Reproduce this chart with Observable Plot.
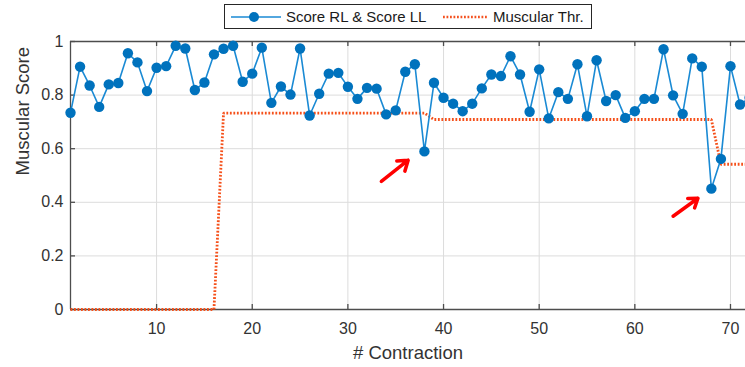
<!DOCTYPE html>
<html>
<head>
<meta charset="utf-8">
<script src="https://cdn.jsdelivr.net/npm/d3@7"></script>
<script src="https://cdn.jsdelivr.net/npm/@observablehq/plot@0.6"></script>
<style>
  html, body { margin: 0; padding: 0; background: #fff; overflow: hidden; }
  #wrap { position: relative; width: 745px; height: 367px; overflow: hidden; font-family: "Liberation Sans", Arial, sans-serif; }
  #wrap svg { overflow: hidden; }
  #legend { position: absolute; left: 224px; top: 4px; width: 368px; height: 25px; border: 1px solid #262626; background: #fff; box-sizing: border-box; }
  #legend svg { position: absolute; left: 0; top: 0; }
  #legend span { position: absolute; top: 3px; font-size: 15px; color: #1a1a1a; white-space: nowrap; }
</style>
</head>
<body>
<div id="wrap">
  <div id="chart"></div>
  <div id="legend">
    <svg width="368" height="25">
      <line x1="6" x2="56" y1="12" y2="12" stroke="#1a8ad4" stroke-width="1.5"></line>
      <circle cx="29" cy="12" r="5" fill="#0072BD"></circle>
      <line x1="218" x2="263" y1="12" y2="12" stroke="#f4511e" stroke-width="2.5" stroke-dasharray="1.8 1.7"></line>
    </svg>
    <span style="left:61px">Score RL &amp; Score LL</span>
    <span style="left:268px">Muscular Thr.</span>
  </div>
</div>
<script>
// Contraction index
const contraction = d3.range(1, 73);
// Score RL & Score LL (one value per contraction)
const score = [
  0.734, 0.906, 0.836, 0.756, 0.840, 0.845, 0.956, 0.922, 0.815, 0.902,
  0.908, 0.984, 0.974, 0.819, 0.847, 0.952, 0.973, 0.984, 0.850, 0.880,
  0.977, 0.771, 0.832, 0.802, 0.974, 0.724, 0.805, 0.880, 0.883, 0.831,
  0.786, 0.827, 0.824, 0.728, 0.743, 0.887, 0.915, 0.590, 0.846, 0.790,
  0.768, 0.740, 0.768, 0.825, 0.877, 0.871, 0.945, 0.877, 0.738, 0.896,
  0.713, 0.811, 0.786, 0.915, 0.721, 0.930, 0.778, 0.800, 0.715, 0.740,
  0.786, 0.786, 0.971, 0.799, 0.730, 0.937, 0.906, 0.451, 0.562, 0.908,
  0.765, 0.790
];
// Muscular threshold (one value per contraction)
const threshold = [
  0, 0, 0, 0, 0, 0, 0, 0, 0, 0,
  0, 0, 0, 0, 0, 0, 0.733, 0.733, 0.733, 0.733,
  0.733, 0.733, 0.733, 0.733, 0.733, 0.733, 0.733, 0.733, 0.733, 0.733,
  0.733, 0.733, 0.733, 0.733, 0.733, 0.733, 0.733, 0.733, 0.709, 0.709,
  0.709, 0.709, 0.709, 0.709, 0.709, 0.709, 0.709, 0.709, 0.709, 0.709,
  0.709, 0.709, 0.709, 0.709, 0.709, 0.709, 0.709, 0.709, 0.709, 0.709,
  0.709, 0.709, 0.709, 0.709, 0.709, 0.709, 0.709, 0.709, 0.542, 0.542,
  0.542, 0.542
];
const xTicks = [10, 20, 30, 40, 50, 60, 70];
const yTicks = [0, 0.2, 0.4, 0.6, 0.8, 1];
// Red annotation arrows (data space: from -> to)
const arrowX1 = [33.5, 64.0];
const arrowY1 = [0.478, 0.348];
const arrowX2 = [36.3, 66.6];
const arrowY2 = [0.557, 0.415];

const rows = contraction.map((c, i) => ({c, score: score[i], thr: threshold[i]}));
const arrows = arrowX1.map((x1, i) => ({x1, y1: arrowY1[i], x2: arrowX2[i], y2: arrowY2[i]}));

const W = 745, H = 367;
const mL = 70, mT = 41, mB = 58, mR = 0;
const pxPerX = 9.565;
const xMax = 1 + (W - mL - mR) / pxPerX;
const tickLenX = 5 / pxPerX;
const tickLenY = 5 / (H - mT - mB);
const axisColor = "#4d4d4d";

const chart = Plot.plot({
  width: W,
  height: H,
  marginLeft: mL,
  marginRight: mR,
  marginTop: mT,
  marginBottom: mB,
  style: {fontFamily: "'Liberation Sans', Arial, sans-serif", background: "#fff", overflow: "hidden"},
  x: {domain: [1, xMax]},
  y: {domain: [0, 1]},
  marks: [
    Plot.gridX(xTicks, {stroke: "#dcdcdc", strokeOpacity: 1, strokeWidth: 1}),
    Plot.gridY(yTicks, {stroke: "#dcdcdc", strokeOpacity: 1, strokeWidth: 1}),
    Plot.axisX(xTicks, {tickSize: 0, tickPadding: 13, fontSize: 16, fill: "#333", label: null}),
    Plot.axisY(yTicks, {tickSize: 0, tickPadding: 7, fontSize: 16, fill: "#333", label: null,
      tickFormat: d => (d === 0 || d === 1) ? String(d) : d.toFixed(1)}),
    // box lines
    Plot.ruleY([0], {stroke: axisColor, strokeWidth: 1.3}),
    Plot.ruleY([1], {stroke: axisColor, strokeWidth: 1.3}),
    Plot.ruleX([1], {stroke: axisColor, strokeWidth: 1.3}),
    // inward ticks
    Plot.ruleX(xTicks, {x: d => d, y1: 0, y2: tickLenY, stroke: axisColor, strokeWidth: 1.3}),
    Plot.ruleX(xTicks, {x: d => d, y1: 1, y2: 1 - tickLenY, stroke: axisColor, strokeWidth: 1.3}),
    Plot.ruleY(yTicks, {y: d => d, x1: 1, x2: 1 + tickLenX, stroke: axisColor, strokeWidth: 1.3}),
    // threshold
    Plot.line(rows, {x: "c", y: "thr", stroke: "#f5501a", strokeWidth: 2.8, strokeDasharray: "1.8 1.7", strokeLinecap: "butt", strokeLinejoin: "miter"}),
    // scores
    Plot.line(rows, {x: "c", y: "score", stroke: "#1a8ad4", strokeWidth: 1.6}),
    Plot.dot(rows, {x: "c", y: "score", r: 5.2, fill: "#0072BD", stroke: "none"}),
    // annotation arrows
    Plot.arrow(arrows, {x1: "x1", y1: "y1", x2: "x2", y2: "y2", stroke: "#ff0000", strokeWidth: 3.5, headLength: 11, headAngle: 70}),
    // axis titles
    Plot.text(["# Contraction"], {frameAnchor: "bottom", dy: 49, fontSize: 18.5, fill: "#333"}),
    Plot.text(["Muscular Score"], {frameAnchor: "left", dx: -47, rotate: -90, fontSize: 18.5, fill: "#333"})
  ]
});
document.getElementById("chart").appendChild(chart);
</script>
</body>
</html>
